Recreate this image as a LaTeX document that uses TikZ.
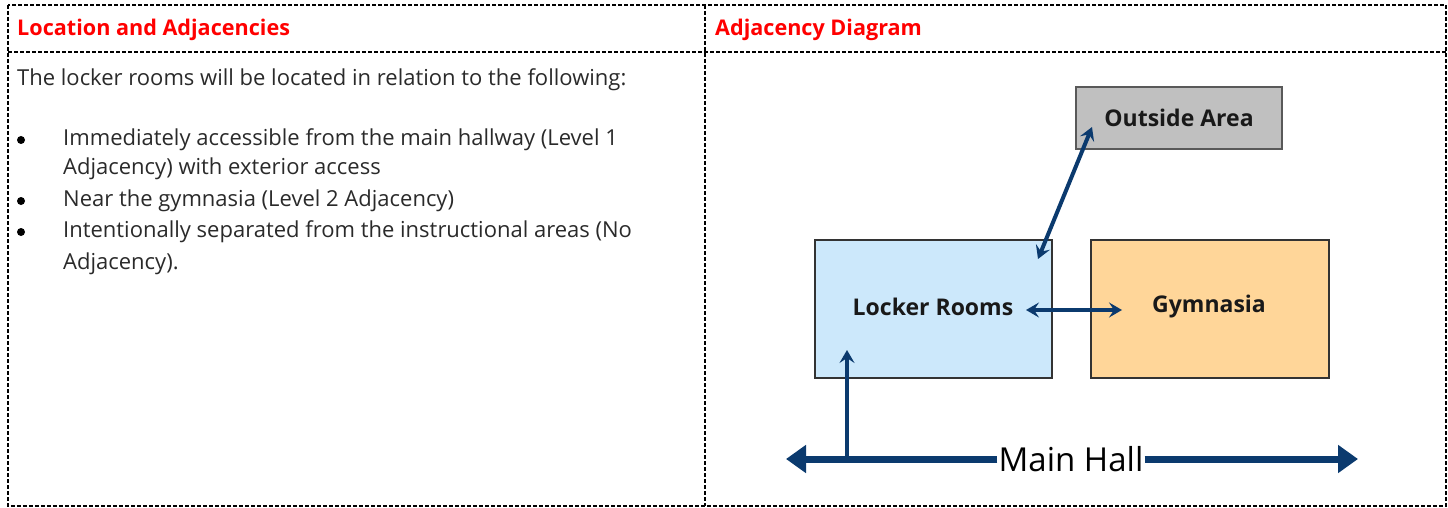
\documentclass[tikz,border=0pt]{standalone}
\usepackage{fontspec}
\setmainfont{Open Sans}
\usetikzlibrary{arrows.meta}
\definecolor{hdred}{HTML}{FF0000}
\definecolor{navy}{HTML}{0B3A6E}
\definecolor{lockerblue}{HTML}{CCE8FB}
\definecolor{gymorange}{HTML}{FFD699}
\definecolor{outgray}{HTML}{C0C0C0}
\definecolor{txtgray}{HTML}{2A2A2A}
\tikzset{
  frame/.style={draw=black, line width=2pt, dash pattern=on 4pt off 2pt},
  heading/.style={anchor=west, inner sep=0pt, text=hdred, font=\fontsize{21.6}{26}\selectfont\bfseries},
  body/.style={anchor=west, inner sep=0pt, text=txtgray, font=\fontsize{22}{26}\selectfont},
  bul/.style={circle, fill=black, inner sep=0pt, minimum size=8pt},
  room/.style={draw=black!80, line width=1.5pt, inner sep=0pt, font=\fontsize{23}{27}\selectfont\bfseries, text=black!90},
  link/.style={draw=navy, line width=4pt, {Stealth[length=13pt,width=15pt,inset=5pt]}-{Stealth[length=13pt,width=15pt,inset=5pt]}},
  uplink/.style={draw=navy, line width=4pt, -{Stealth[length=13pt,width=15pt,inset=5pt]}},
  hallline/.style={draw=navy, line width=7pt}
}
\begin{document}
\begin{tikzpicture}[x=1pt,y=-1pt]
\useasboundingbox (0,0) rectangle (1448,508);
% table frame
\draw[frame] (8,5) rectangle (1446,506);
\draw[frame] (8,52) -- (1446,52);
\draw[frame] (705,5) -- (705,506);
% headings
\node[heading] (h1) at (17,30) {Location and Adjacencies};
\node[heading] (h2) at (715,30) {Adjacency Diagram};
% left body
\node[body] (intro) at (17,80) {The locker rooms will be located in relation to the following:};
\node[bul] (b1) at (21,140) {};
\node[body] (l1a) at (63,140) {Immediately accessible from the main hallway (Level 1};
\node[body] (l1b) at (63,169) {Adjacency) with exterior access};
\node[bul] (b2) at (21,201) {};
\node[body] (l2) at (63,201) {Near the gymnasia (Level 2 Adjacency)};
\node[bul] (b3) at (21,232) {};
\node[body] (l3a) at (63,232) {Intentionally separated from the instructional areas (No};
\node[body] (l3b) at (63,264) {Adjacency).};
% diagram
\node[room, fill=outgray, draw=black!65, minimum width=206pt, minimum height=62pt] (out) at (1179,118) {Outside Area};
\node[room, fill=lockerblue, minimum width=237pt, minimum height=138pt] (lock) at (933.5,309) {};
\node[room, draw=none, fill=none] (locklbl) at (933,307) {Locker Rooms};
\node[room, fill=gymorange, minimum width=238pt, minimum height=138pt] (gym) at (1210,309) {};
\node[room, draw=none, fill=none] (gymlbl) at (1209,307) {Gymnasia};
\coordinate (lgA) at (1026,310);
\coordinate (lgB) at (1122,310);
\draw[link] (lgA) -- (lgB);
\coordinate (oA) at (1092,127);
\coordinate (oB) at (1038,259);
\draw[link] (oA) -- (oB);
% main hall
\node[inner sep=1pt, font=\fontsize{33}{38}\selectfont, text=black] (hall) at (1071,459) {Main Hall};
\coordinate (hallL) at (786,459);
\coordinate (hallR) at (1358,459);
\draw[hallline, -{Triangle[length=20pt,width=27pt]}] (hall.west) -- (hallL);
\draw[hallline, -{Triangle[length=20pt,width=27pt]}] (hall.east) -- (hallR);
\coordinate (hallJ) at (847,461);
\coordinate (lockIn) at (847,350);
\draw[uplink] (hallJ) -- (lockIn);
\end{tikzpicture}
\end{document}
